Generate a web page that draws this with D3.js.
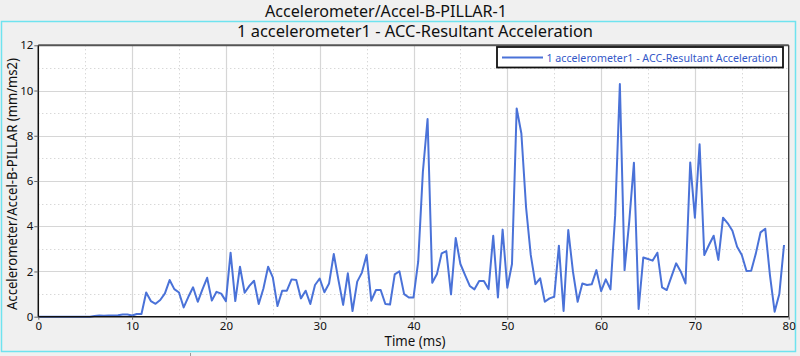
<!DOCTYPE html>
<html><head><meta charset="utf-8">
<script src="https://cdn.jsdelivr.net/npm/d3@7"></script>
<style>
html,body{margin:0;padding:0;background:#f0f0f0;}
svg{display:block;font-family:"Noto Sans","Open Sans",sans-serif;}
</style></head>
<body>
<svg id="chart" width="800" height="356"></svg>
<script>
const chartTitle = "Accelerometer/Accel-B-PILLAR-1";
const plotTitle = "1 accelerometer1 - ACC-Resultant Acceleration";
const seriesName = "1 accelerometer1 - ACC-Resultant Acceleration";
const xAxisTitle = "Time (ms)";
const yAxisTitle = "Accelerometer/Accel-B-PILLAR (mm/ms2)";
const xTicks = [0,10,20,30,40,50,60,70,80];
const yTicks = [0,2,4,6,8,10,12];
const xMinorTicks = [5,15,25,35,45,55,65,75];
const yMinorTicks = [1,3,5,7,9,11];
const timeMs = [0,0.5,1,1.5,2,2.5,3,3.5,4,4.5,5,5.5,6,6.5,7,7.5,8,8.5,9,9.5,
10,10.5,11,11.5,12,12.5,13,13.5,14,14.5,15,15.5,16,16.5,17,17.5,18,18.5,19,19.5,
20,20.5,21,21.5,22,22.5,23,23.5,24,24.5,25,25.5,26,26.5,27,27.5,28,28.5,29,29.5,
30,30.5,31,31.5,32,32.5,33,33.5,34,34.5,35,35.5,36,36.5,37,37.5,38,38.5,39,39.5,
40,40.5,41,41.5,42,42.5,43,43.5,44,44.5,45,45.5,46,46.5,47,47.5,48,48.5,49,49.5,
50,50.5,51,51.5,52,52.5,53,53.5,54,54.5,55,55.5,56,56.5,57,57.5,58,58.5,59,59.5,
60,60.5,61,61.5,62,62.5,63,63.5,64,64.5,65,65.5,66,66.5,67,67.5,68,68.5,69,69.5,
70,70.5,71,71.5,72,72.5,73,73.5,74,74.5,75,75.5,76,76.5,77,77.5,78,78.5,79,79.5];
const accel = [0,0,0,0,0,0,0,0,0,0,
0,0,0.03,0.05,0.04,0.05,0.05,0.06,0.10,0.10,
0.05,0.12,0.12,1.07,0.69,0.57,0.74,1.03,1.62,1.22,1.07,0.41,0.88,1.30,0.66,1.21,1.72,0.71,1.10,1.02,
0.69,2.83,0.69,2.21,1.06,1.36,1.59,0.56,1.25,2.21,1.74,0.47,1.15,1.15,1.65,1.62,0.81,1.15,0.56,1.40,
1.69,1.08,1.47,2.77,1.62,0.52,1.92,0.25,1.55,1.95,2.73,0.71,1.18,1.18,0.56,0.54,1.87,2.01,1.00,0.85,
0.85,2.43,6.41,8.74,1.50,1.89,2.80,2.90,0.99,3.48,2.33,1.84,1.36,1.21,1.58,1.58,1.22,3.58,0.85,3.85,
1.28,2.33,9.21,8.10,4.84,2.73,1.44,1.70,0.66,0.81,0.88,3.14,0.25,3.83,1.99,0.66,1.47,1.40,1.43,2.06,
1.13,1.65,1.21,4.49,10.29,2.06,4.20,6.81,0.34,2.62,2.55,2.48,2.83,1.30,1.18,1.77,2.36,1.99,1.47,6.82,
4.38,7.62,2.73,3.17,3.58,2.51,4.38,4.13,3.80,3.09,2.73,2.02,2.03,2.80,3.73,3.89,1.84,0.22,1.00,3.17];

const svg = d3.select("#chart");
const L = 38.3, R = 788.7, T = 45.3, B = 316.7;
const x = d3.scaleLinear().domain([0,80]).range([L,R]);
const y = d3.scaleLinear().domain([0,12]).range([B,T]);
const lineColor = "#4a72d8";

// outer cyan panel
svg.append("rect").attr("x",1.5).attr("y",21.5).attr("width",794).attr("height",330)
  .attr("fill","none").attr("stroke","#6fe3ef").attr("stroke-width",1.5);
svg.append("line").attr("x1",190.5).attr("x2",190.5).attr("y1",353).attr("y2",356).attr("stroke","#999");

// titles
function fitText(sel, w){ sel.attr("textLength", w).attr("lengthAdjust","spacingAndGlyphs"); return sel; }
fitText(svg.append("text").attr("x",386).attr("y",17).attr("text-anchor","middle")
  .attr("font-size",15.5).attr("fill","#111").text(chartTitle), 242);
fitText(svg.append("text").attr("x",415).attr("y",37).attr("text-anchor","middle")
  .attr("font-size",16).attr("fill","#111").text(plotTitle), 356);

// plot background
svg.append("rect").attr("x",L).attr("y",T).attr("width",R-L).attr("height",B-T).attr("fill","#fff");

// grids
const g = svg.append("g");
g.selectAll(".xmin").data(xMinorTicks).join("line")
  .attr("x1",d=>Math.round(x(d))+0.5).attr("x2",d=>Math.round(x(d))+0.5).attr("y1",T).attr("y2",B)
  .attr("stroke","#c8c8c8").attr("stroke-dasharray","1,3");
g.selectAll(".ymin").data(yMinorTicks).join("line")
  .attr("y1",d=>Math.round(y(d))+0.5).attr("y2",d=>Math.round(y(d))+0.5).attr("x1",L).attr("x2",R)
  .attr("stroke","#c8c8c8").attr("stroke-dasharray","1,3");
g.selectAll(".xmaj").data(xTicks.slice(1,-1)).join("line")
  .attr("x1",d=>Math.round(x(d))+0.5).attr("x2",d=>Math.round(x(d))+0.5).attr("y1",T).attr("y2",B)
  .attr("stroke","#d6d6d6").attr("stroke-width",1.2);
g.selectAll(".ymaj").data(yTicks.slice(1,-1)).join("line")
  .attr("y1",d=>Math.round(y(d))+0.5).attr("y2",d=>Math.round(y(d))+0.5).attr("x1",L).attr("x2",R)
  .attr("stroke","#d6d6d6").attr("stroke-width",1.2);

// data line
const line = d3.line().x((d,i)=>x(timeMs[i])).y(d=>y(d));
svg.append("path").datum(accel).attr("d",line).attr("fill","none")
  .attr("stroke",lineColor).attr("stroke-width",2).attr("stroke-linejoin","round");

// frame
svg.append("line").attr("x1",L).attr("x2",R).attr("y1",T).attr("y2",T).attr("stroke","#555").attr("stroke-width",2);
svg.append("line").attr("x1",R).attr("x2",R).attr("y1",T).attr("y2",B).attr("stroke","#333").attr("stroke-width",1.3);

// axes
const xAxis = d3.axisBottom(x).tickValues(xTicks).tickSize(3).tickPadding(2).tickFormat(d3.format("d"));
const yAxis = d3.axisLeft(y).tickValues(yTicks).tickSize(4).tickPadding(1).tickFormat(d3.format("d"));
const gx = svg.append("g").attr("transform",`translate(0,${B})`).call(xAxis);
const gy = svg.append("g").attr("transform",`translate(${L},0)`).call(yAxis);
[gx,gy].forEach(a=>{
  a.select(".domain").attr("stroke","#111").attr("stroke-width",1.5);
  a.selectAll(".tick line").attr("stroke","#666");
  a.selectAll(".tick text").attr("font-size",11.5).attr("fill","#111")
    .attr("font-family",'"Noto Sans","Open Sans",sans-serif');
});
gx.select(".domain").attr("d",`M${L},0H${R}`);
gy.select(".domain").attr("d",`M0,${B}V${T}`);

// axis titles
fitText(svg.append("text").attr("x",415).attr("y",346).attr("text-anchor","middle")
  .attr("font-size",13.5).attr("fill","#111").text(xAxisTitle), 61);
fitText(svg.append("text").attr("transform",`translate(17,184) rotate(-90)`).attr("text-anchor","middle")
  .attr("font-size",13.5).attr("fill","#111").text(yAxisTitle), 252);

// legend
const lg = svg.append("g");
lg.append("rect").attr("x",497).attr("y",47).attr("width",286).attr("height",20.5)
  .attr("fill","#fff").attr("stroke","#111").attr("stroke-width",1.8);
lg.append("line").attr("x1",502).attr("x2",543).attr("y1",57.5).attr("y2",57.5)
  .attr("stroke",lineColor).attr("stroke-width",2);
fitText(lg.append("text").attr("x",546.5).attr("y",61.5).attr("font-size",11.5)
  .attr("fill","#3458c8").text(seriesName), 231);
</script>
</body></html>
